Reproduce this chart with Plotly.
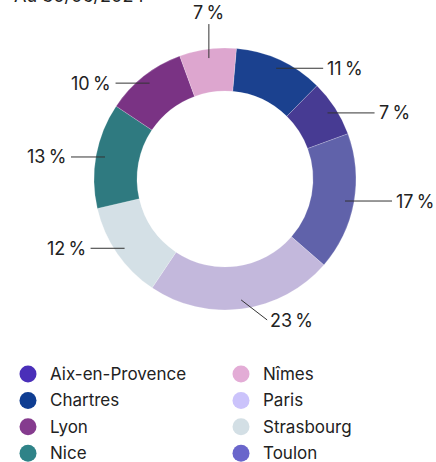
import math
import plotly.graph_objects as go

# ---- data ----
slice_labels = ["Chartres", "Aix-en-Provence", "Toulon", "Paris", "Strasbourg", "Nice", "Lyon", "Nîmes"]
slice_values = [11, 7, 17, 23, 12, 13, 10, 7]
slice_colors = ["#1b418f", "#473b93", "#6062aa", "#c3b8dc", "#d4e0e6", "#2f7a80", "#7a3384", "#dda6cf"]

legend_names = ["Aix-en-Provence", "Chartres", "Lyon", "Nice", "Nîmes", "Paris", "Strasbourg", "Toulon"]
legend_colors = ["#4a2fb9", "#0f3d92", "#853b8e", "#2f8388", "#e3acd6", "#cbc3fb", "#d3dfe5", "#6a66cb"]

title_text = "Au 30/06/2024"

# ---- layout constants (pixels) ----
W, H = 436, 462
CX, CY, R = 225, 179, 131
HOLE = 0.672
ROT = 5
R_LINE = 122
FONT = "Inter, Roboto, Arial, sans-serif"
TXT = "#222222"

fig = go.Figure()

fig.add_trace(go.Pie(
    labels=slice_labels, values=slice_values, sort=False, direction="clockwise",
    rotation=ROT, hole=HOLE, textinfo="none", hoverinfo="label+percent",
    marker=dict(colors=slice_colors, line=dict(color="rgba(255,255,255,0.4)", width=0.5)),
    domain=dict(x=[(CX - R) / W, (CX + R) / W], y=[1 - (CY + R) / H, 1 - (CY - R) / H]),
    showlegend=False,
))

# invisible pixel axes used for leader lines / legend
fig.update_xaxes(range=[0, W], visible=False, fixedrange=True)
fig.update_yaxes(range=[H, 0], visible=False, fixedrange=True)

total = sum(slice_values)
cum = 0
shapes = []
annotations = []
for lab, v in zip(slice_labels, slice_values):
    theta = math.radians(ROT + 360 * (cum + v / 2) / total)
    cum += v
    s, c = math.sin(theta), math.cos(theta)
    x0, y0 = CX + R_LINE * s, CY - R_LINE * c
    txt = f"{v}\u202f%"
    if abs(s) >= 0.4:
        if s > 0:
            x1, y1 = x0 + 47, y0
            ann = dict(x=x1 + 2, y=y1, xanchor="left", yanchor="middle")
        else:
            x1, y1 = x0 - 34, y0
            ann = dict(x=x1 - 3, y=y1, xanchor="right", yanchor="middle")
    elif c > 0:
        x1, y1 = x0, y0 - 34
        ann = dict(x=x1, y=y1 + 1, xanchor="center", yanchor="bottom")
    else:
        x1, y1 = x0 + 26, y0 + 20
        ann = dict(x=x1 + 1, y=y1 + 1, xanchor="left", yanchor="middle")
    shapes.append(dict(type="line", xref="x", yref="y", x0=x0, y0=y0, x1=x1, y1=y1,
                       line=dict(color="#333333", width=1)))
    annotations.append(dict(text=txt, xref="x", yref="y", showarrow=False,
                            font=dict(family=FONT, size=18, color=TXT), **ann))

# legend (manual, two columns)
LEG_X = [28, 241]
LEG_Y0, LEG_DY = 374, 26.4
lx, ly = [], []
for i, (name, col) in enumerate(zip(legend_names, legend_colors)):
    cx = LEG_X[i // 4]
    cy = LEG_Y0 + LEG_DY * (i % 4)
    lx.append(cx)
    ly.append(cy)
    annotations.append(dict(text=name, x=cx + 20, y=cy, xref="x", yref="y", showarrow=False,
                            xanchor="left", yanchor="middle",
                            font=dict(family=FONT, size=17, color=TXT)))
fig.add_trace(go.Scatter(x=lx, y=ly, mode="markers", hoverinfo="skip", showlegend=False,
                         marker=dict(size=17, color=legend_colors, line=dict(width=0))))

annotations.append(dict(text=title_text, x=12, y=8, xref="x", yref="y", showarrow=False,
                        xanchor="left", yanchor="bottom",
                        font=dict(family=FONT, size=18, color=TXT)))

fig.update_layout(
    width=W, height=H, margin=dict(l=0, r=0, t=0, b=0),
    paper_bgcolor="white", plot_bgcolor="white",
    shapes=shapes, annotations=annotations, showlegend=False,
)

fig.write_html("out.html", config={"displayModeBar": False},
               post_script="document.body.style.margin='0';document.body.style.overflow='hidden';")
